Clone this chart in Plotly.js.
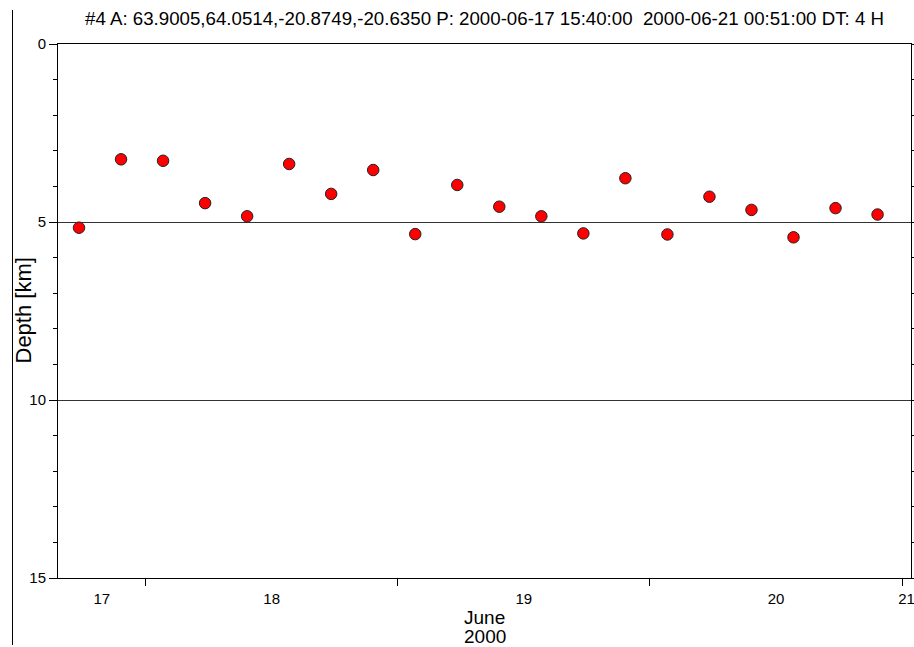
<!DOCTYPE html>
<html><head><meta charset="utf-8">
<script src="https://cdn.plot.ly/plotly-3.0.1.min.js"></script>
<style>html,body{margin:0;padding:0;background:#fff;}#chart{width:914px;height:647px;}</style>
</head><body><div id="chart"></div>
<script>
// ---- data ----
const times = [
  '2000-06-17 17:40:00','2000-06-17 21:40:00',
  '2000-06-18 01:40:00','2000-06-18 05:40:00','2000-06-18 09:40:00','2000-06-18 13:40:00','2000-06-18 17:40:00','2000-06-18 21:40:00',
  '2000-06-19 01:40:00','2000-06-19 05:40:00','2000-06-19 09:40:00','2000-06-19 13:40:00','2000-06-19 17:40:00','2000-06-19 21:40:00',
  '2000-06-20 01:40:00','2000-06-20 05:40:00','2000-06-20 09:40:00','2000-06-20 13:40:00','2000-06-20 17:40:00','2000-06-20 21:40:00'
];
const depths = [5.16, 3.24, 3.28, 4.47, 4.84, 3.37, 4.21, 3.54, 5.34, 3.96, 4.57, 4.84, 5.32, 3.77, 5.35, 4.29, 4.66, 5.43, 4.61, 4.79];
const xRange = ['2000-06-17 15:40:00', '2000-06-21 00:51:00'];
const dayTicks = ['2000-06-18', '2000-06-19', '2000-06-20', '2000-06-21'];
const dayLabels = ['2000-06-17', '2000-06-18', '2000-06-19', '2000-06-20', '2000-06-21'];
const dayText = ['17', '18', '19', '20', '21'];
const yTicks = [0, 5, 10, 15];
const yRange = [15, 0];
const titleText = '#4 A: 63.9005,64.0514,-20.8749,-20.6350 P: 2000-06-17 15:40:00 \u00a02000-06-21 00:51:00 DT: 4 H';
const yTitle = 'Depth [km]';
const monthTitle = 'June';
const yearTitle = '2000';

// ---- label positions: centre of the visible part of each day ----
const toMs = s => Date.parse(s.replace(' ', 'T') + (s.length > 10 ? 'Z' : 'T00:00:00Z'));
const r0 = toMs(xRange[0]), r1 = toMs(xRange[1]);
const labelVals = dayLabels.map(d => {
  const s = toMs(d), e = s + 864e5;
  return (Math.max(s, r0) + Math.min(e, r1)) / 2;
});

const FONT = 'Liberation Sans, Arial, sans-serif';
const W = 914, H = 647, L = 58, R = 3, T = 44, B = 69;
const pw = W - L - R, ph = H - T - B;
const px2x = p => (p - L) / pw;
const py2y = p => (H - B - p) / ph;

const trace = {
  type: 'scatter', mode: 'markers', x: times, y: depths,
  marker: {color: '#ff0000', size: 11.5, line: {color: '#222', width: 1}},
  hoverinfo: 'x+y'
};

const layout = {
  width: W, height: H,
  margin: {l: L, r: R, t: T, b: B, pad: 0},
  paper_bgcolor: '#fff', plot_bgcolor: '#fff',
  showlegend: false,
  font: {family: FONT, color: '#000', size: 15},
  title: {text: titleText, font: {family: FONT, size: 18.7, color: '#000'},
          xref: 'paper', x: 0.5, xanchor: 'center', yref: 'container', y: 1 - 18 / H, yanchor: 'middle'},
  xaxis: {
    type: 'date', range: xRange, tickmode: 'array', tickvals: labelVals, ticktext: dayText,
    ticks: '', ticklabelstandoff: 7, ticklabeloverflow: 'allow',
    tickfont: {family: FONT, size: 15, color: '#000'},
    minor: {tickmode: 'array', tickvals: dayTicks, ticks: 'outside', ticklen: 7, tickwidth: 1, tickcolor: '#000', showgrid: false},
    showline: true, linecolor: '#000', linewidth: 1, mirror: true,
    showgrid: false, zeroline: false, fixedrange: true
  },
  yaxis: {
    range: yRange, tickmode: 'array', tickvals: yTicks,
    ticks: 'outside', ticklen: 8, tickwidth: 1, tickcolor: '#000',
    minor: {dtick: 1, ticks: 'outside', ticklen: 4, tickcolor: '#000', showgrid: false},
    tickfont: {family: FONT, size: 15, color: '#000'},
    showline: true, linecolor: '#000', linewidth: 1, mirror: 'ticks',
    showgrid: true, gridcolor: '#333', gridwidth: 1, zeroline: false, fixedrange: true
  },
  annotations: [
    {text: yTitle, textangle: -90, xref: 'paper', yref: 'paper', x: px2x(22.5), y: 0.5,
     xanchor: 'center', yanchor: 'middle', showarrow: false, font: {family: FONT, size: 22, color: '#000'}},
    {text: monthTitle, xref: 'paper', yref: 'paper', x: 0.5, y: py2y(617.5),
     xanchor: 'center', yanchor: 'middle', showarrow: false, font: {family: FONT, size: 19, color: '#000'}},
    {text: yearTitle, xref: 'paper', yref: 'paper', x: 0.5, y: py2y(636),
     xanchor: 'center', yanchor: 'middle', showarrow: false, font: {family: FONT, size: 19, color: '#000'}}
  ],
  shapes: [{type: 'line', xref: 'paper', yref: 'paper', x0: px2x(12.5), x1: px2x(12.5),
            y0: py2y(10), y1: py2y(645), line: {color: '#000', width: 1}}]
};

Plotly.newPlot('chart', [trace], layout, {displayModeBar: false, staticPlot: true});
</script>
</body></html>
